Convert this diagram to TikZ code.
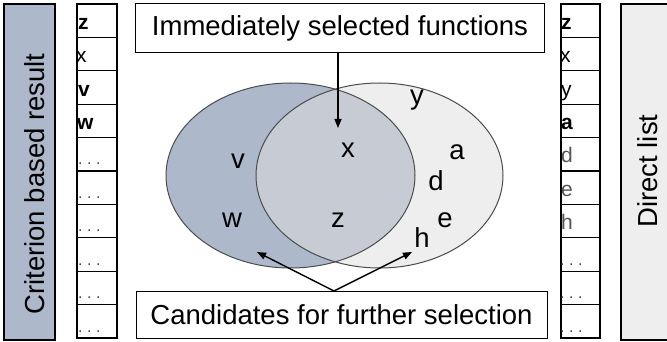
\documentclass[tikz,border=0pt]{standalone}
\usepackage{fontspec}
\setmainfont{Liberation Sans}
\usetikzlibrary{arrows.meta}
\definecolor{bluegray}{HTML}{ADB9CA}
\definecolor{lightgray}{HTML}{EEEEEE}
\definecolor{overlapc}{HTML}{C6CBD4}
\definecolor{dotgray}{HTML}{444444}
\definecolor{lettergray}{HTML}{555555}
\tikzset{
  labelbox/.style={draw=black, line width=1.1pt, fill=white},
  bigtxt/.style={font=\fontsize{27.5}{30}\selectfont, inner sep=0pt, anchor=base},
  listcell/.style={draw=black, line width=1.1pt, fill=white},
  listtxt/.style={font=\fontsize{21}{23}\selectfont, inner sep=0pt, anchor=base west},
  dotstxt/.style={font=\fontsize{16}{18}\selectfont, inner sep=0pt, anchor=base west, text=dotgray},
  arr/.style={line width=1.4pt, -{Triangle[length=9pt,width=7pt]}},
  ell/.style={line width=1pt, draw=black!70}
}
\newcommand{\mydots}{.\hspace{4.5pt}.\hspace{4.5pt}.}
\begin{document}
\begin{tikzpicture}[x=1pt,y=-1pt]
\useasboundingbox (0,0) rectangle (667,342);
% side bars
\draw[fill=bluegray, line width=1.3pt] (4,4) rectangle (55,340);
\node[bigtxt, rotate=90] (crit) at (45,184) {Criterion based result};
\draw[fill=lightgray, line width=1.1pt] (621,4) rectangle (668,340);
\node[bigtxt, rotate=90] (direct) at (657,171) {Direct list};
% lists
\foreach \i in {0,...,9} {
  \draw[listcell] (77,{4+33.4*\i}) rectangle (117,{4+33.4*(\i+1)});
  \draw[listcell] (561,{4+33.4*\i}) rectangle (600,{4+33.4*(\i+1)});
}
\node[listtxt] (l1) at (78,{4+33.4*1-8}) {\textbf{z}};
\node[listtxt] (l2) at (76,{4+33.4*2-8}) {x};
\node[listtxt] (l3) at (78,{4+33.4*3-8}) {\textbf{v}};
\node[listtxt] (l4) at (77,{4+33.4*4-8}) {\textbf{w}};
\foreach \i in {5,...,10} {
  \node[dotstxt] at (78,{4+33.4*\i-6}) {\mydots};
}
\foreach \i in {8,...,10} {
  \node[dotstxt] at (560,{4+33.4*\i-6}) {\mydots};
}
\node[listtxt] (r1) at (561,{4+33.4*1-8}) {\textbf{z}};
\node[listtxt] (r2) at (560,{4+33.4*2-8}) {x};
\node[listtxt] (r3) at (561,{4+33.4*3-8}) {y};
\node[listtxt] (r4) at (561,{4+33.4*4-8}) {\textbf{a}};
\node[listtxt, text=lettergray] (r5) at (561,{4+33.4*5-8}) {d};
\node[listtxt, text=lettergray] (r6) at (561,{4+33.4*6-8}) {e};
\node[listtxt, text=lettergray] (r7) at (561,{4+33.4*7-8}) {h};
% venn
\fill[bluegray] (290.5,175.5) ellipse [x radius=124.5, y radius=92.5];
\fill[lightgray] (379.5,175.5) ellipse [x radius=123.5, y radius=92.5];
\begin{scope}
  \clip (290.5,175.5) ellipse [x radius=124.5, y radius=92.5];
  \fill[overlapc] (379.5,175.5) ellipse [x radius=123.5, y radius=92.5];
\end{scope}
\draw[ell] (290.5,175.5) ellipse [x radius=124.5, y radius=92.5];
\draw[ell] (379.5,175.5) ellipse [x radius=123.5, y radius=92.5];
\node[bigtxt] (v) at (238,168) {v};
\node[bigtxt] (x) at (348,158) {x};
\node[bigtxt] (w) at (232,227) {w};
\node[bigtxt] (z) at (338,227) {z};
\node[bigtxt] (y) at (417,105) {y};
\node[bigtxt] (a) at (457,160) {a};
\node[bigtxt] (d) at (436,190) {d};
\node[bigtxt] (e) at (445,227) {e};
\node[bigtxt] (h) at (422,247) {h};
% boxes
\node[labelbox, minimum width=409pt, minimum height=49pt, inner sep=0pt, anchor=north west] (top) at (135,3) {};
\node[bigtxt] (toptxt) at (340,36) {Immediately selected functions};
\node[labelbox, minimum width=411pt, minimum height=47pt, inner sep=0pt, anchor=north west] (bot) at (136,291) {};
\node[bigtxt] (bottxt) at (341.5,324) {Candidates for further selection};
% arrows
\coordinate (topend) at (338,128);
\coordinate (bstart) at (334,291);
\coordinate (bl) at (257,252);
\coordinate (br) at (412,252);
\draw[arr] (top.south -| topend) -- (topend);
\draw[arr] (bstart) -- (bl);
\draw[arr] (bstart) -- (br);
\end{tikzpicture}
\end{document}
